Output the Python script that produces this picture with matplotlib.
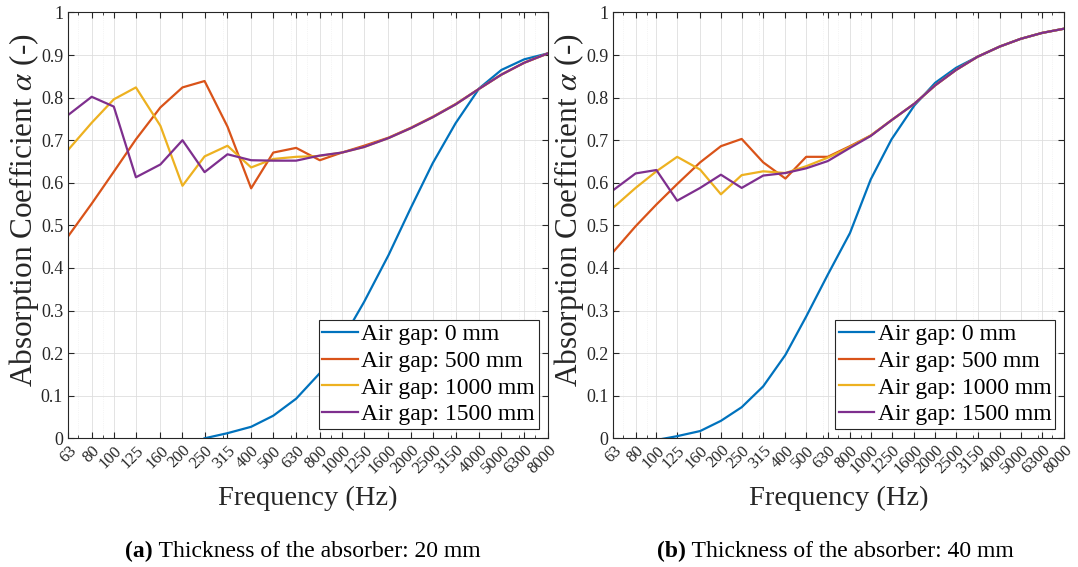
import numpy as np
import matplotlib.pyplot as plt
from matplotlib.ticker import FixedLocator, LogLocator, NullFormatter

plt.rcParams.update({
    "font.family": ["Liberation Serif", "DejaVu Serif"],
    "mathtext.fontset": "stix",
    "axes.linewidth": 0.8,
})

freqs = [63, 80, 100, 125, 160, 200, 250, 315, 400, 500, 630, 800,
         1000, 1250, 1600, 2000, 2500, 3150, 4000, 5000, 6300, 8000]
freq_labels = [str(f) for f in freqs]

series_names = ["Air gap: 0 mm", "Air gap: 500 mm", "Air gap: 1000 mm", "Air gap: 1500 mm"]

# (a) absorber thickness 20 mm
a_gap0 = [np.nan, np.nan, np.nan, np.nan, np.nan, np.nan, 0.0, 0.012, 0.027, 0.053, 0.093, 0.153,
          0.23, 0.32, 0.43, 0.54, 0.646, 0.74, 0.822, 0.865, 0.89, 0.904]
a_gap500 = [0.474, 0.551, 0.626, 0.702, 0.777, 0.824, 0.839, 0.732, 0.587, 0.671, 0.682, 0.653,
            0.671, 0.687, 0.706, 0.729, 0.755, 0.785, 0.821, 0.854, 0.882, 0.904]
a_gap1000 = [0.677, 0.741, 0.796, 0.824, 0.734, 0.593, 0.662, 0.687, 0.636, 0.656, 0.661, 0.663,
             0.671, 0.684, 0.705, 0.728, 0.754, 0.784, 0.821, 0.854, 0.882, 0.904]
a_gap1500 = [0.759, 0.802, 0.779, 0.613, 0.643, 0.700, 0.625, 0.667, 0.653, 0.652, 0.652, 0.664,
             0.671, 0.684, 0.705, 0.728, 0.754, 0.784, 0.821, 0.854, 0.882, 0.904]

# (b) absorber thickness 40 mm
b_gap0 = [np.nan, np.nan, -0.004, 0.005, 0.017, 0.041, 0.073, 0.122, 0.196, 0.286, 0.384, 0.482,
          0.608, 0.702, 0.782, 0.835, 0.870, 0.896, 0.920, 0.938, 0.952, 0.962]
b_gap500 = [0.438, 0.498, 0.549, 0.597, 0.648, 0.686, 0.703, 0.648, 0.610, 0.661, 0.661, 0.686,
            0.711, 0.747, 0.786, 0.829, 0.865, 0.896, 0.920, 0.938, 0.952, 0.962]
b_gap1000 = [0.542, 0.588, 0.627, 0.661, 0.631, 0.573, 0.618, 0.627, 0.623, 0.639, 0.659, 0.684,
             0.711, 0.747, 0.786, 0.829, 0.865, 0.896, 0.920, 0.938, 0.952, 0.962]
b_gap1500 = [0.583, 0.622, 0.630, 0.558, 0.588, 0.619, 0.588, 0.617, 0.623, 0.634, 0.651, 0.682,
             0.710, 0.747, 0.786, 0.829, 0.865, 0.896, 0.920, 0.938, 0.952, 0.962]

captions = [("(a)", " Thickness of the absorber: 20 mm"),
            ("(b)", " Thickness of the absorber: 40 mm")]

colors = ["#0072BD", "#D95319", "#EDB120", "#7E2F8E"]
grey = "#262626"

fig = plt.figure(figsize=(10.78, 5.67), dpi=100)
ax_a = fig.add_axes([0.0631, 0.227, 0.4452, 0.751])
ax_b = fig.add_axes([0.569, 0.227, 0.4183, 0.751])

panels = [
    (ax_a, [a_gap0, a_gap500, a_gap1000, a_gap1500], -0.057),
    (ax_b, [b_gap0, b_gap500, b_gap1000, b_gap1500], -0.061),
]

for ax, data, lab_x in panels:
    for vals, c, name in zip(data, colors, series_names):
        ax.plot(freqs, vals, color=c, lw=1.6, label=name)
    ax.set_xscale("log")
    ax.set_xlim(63, 8000)
    ax.set_ylim(0, 1)
    ax.xaxis.set_major_locator(FixedLocator(freqs))
    ax.set_xticklabels(freq_labels, rotation=45, ha="right", va="top",
                       rotation_mode="anchor", fontsize=12)
    ax.xaxis.set_minor_locator(LogLocator(base=10, subs=np.arange(2, 10), numticks=20))
    ax.xaxis.set_minor_formatter(NullFormatter())
    ax.set_yticks(np.arange(0, 1.01, 0.1))
    ax.set_yticklabels(["0"] + [f"{v:.1f}" for v in np.arange(0.1, 0.95, 0.1)] + ["1"], fontsize=13)
    ax.tick_params(which="both", direction="in", top=True, right=True, colors=grey)
    ax.tick_params(which="major", length=4)
    ax.tick_params(which="minor", length=2)
    ax.tick_params(axis="x", which="major", pad=3)
    ax.grid(True, which="major", color="#dedede", lw=0.6)
    ax.grid(True, which="minor", axis="x", color="#ececec", lw=0.5, ls=":")
    ax.set_axisbelow(True)
    for s in ax.spines.values():
        s.set_color(grey)
    ax.set_xlabel("Frequency (Hz)", fontsize=20.5, color=grey, labelpad=6)
    ax.set_ylabel(r"Absorption Coefficient $\alpha$ (-)", fontsize=22.5, color=grey)
    ax.yaxis.set_label_coords(lab_x, 0.535)
    leg = ax.legend(loc="lower right", fontsize=17, frameon=True, fancybox=False,
                    edgecolor=grey, framealpha=1, borderpad=0.15, labelspacing=0.22,
                    handlelength=1.5, handletextpad=0.15, borderaxespad=0.4)
    leg.get_frame().set_linewidth(0.8)
    leg.set_zorder(5)

# captions below the panels
for x0, (tag, rest) in zip([0.116, 0.6095], captions):
    t1 = fig.text(x0, 0.028, tag, fontsize=17, weight="bold", ha="left", va="center")
    ax_a.annotate(rest, xy=(1, 0.5), xycoords=t1, fontsize=17, ha="left", va="center",
                  annotation_clip=False)

fig.savefig("out.png", dpi=100)
